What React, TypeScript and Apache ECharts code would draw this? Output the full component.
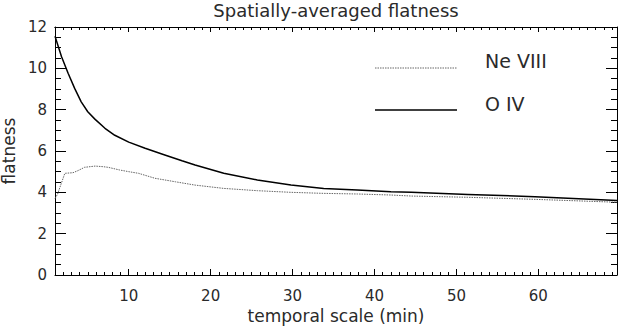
import React, { useEffect, useRef } from "react";
import * as echarts from "echarts";

// temporal scale (min) for each sampled point
const oivX = [1, 1.8, 2.6, 3.4, 4.2, 5, 5.9, 7.1, 8.3, 10, 12, 14.4, 16.5, 18.1, 21.6, 25.7, 29.8, 33.8, 37.9, 42, 44.5, 51.4, 59.6, 69.6];
const oivY = [11.55, 10.56, 9.76, 9.03, 8.38, 7.9, 7.53, 7.1, 6.76, 6.43, 6.13, 5.81, 5.53, 5.32, 4.92, 4.6, 4.35, 4.19, 4.11, 4.03, 4.0, 3.9, 3.79, 3.6];

const neX = [1, 1.3, 2.2, 3.2, 3.8, 4.6, 5.9, 6.9, 7.5, 8.9, 10, 11.2, 13.2, 15.7, 18.1, 21.6, 25.7, 29.8, 33.8, 37.9, 42, 44.5, 51.4, 59.6, 69.6];
const neY = [3.7, 3.9, 4.92, 4.95, 5.05, 5.21, 5.27, 5.24, 5.21, 5.08, 5.0, 4.92, 4.68, 4.51, 4.35, 4.19, 4.08, 4.0, 3.95, 3.92, 3.87, 3.82, 3.76, 3.66, 3.52];

const xMajorTicks = [10, 20, 30, 40, 50, 60];
const xMinorTicks = [2, 3, 4, 5, 6, 7, 8, 9, 11, 12, 13, 14, 15, 16, 17, 18, 19, 21, 22, 23, 24, 25, 26, 27, 28, 29, 31, 32, 33, 34, 35, 36, 37, 38, 39, 41, 42, 43, 44, 45, 46, 47, 48, 49, 51, 52, 53, 54, 55, 56, 57, 58, 59, 61, 62, 63, 64, 65, 66, 67, 68, 69];

const X_MIN = 1;
const X_MAX = 69.6;
const Y_MIN = 0;
const Y_MAX = 12;
const Y_STEP = 2;

const FONT = "DejaVu Sans";
const TXT = "#2a2a2a";

export default function App() {
  const ref = useRef<HTMLDivElement>(null);
  useEffect(() => {
    if (!ref.current) return;
    const chart = echarts.init(ref.current, undefined, { renderer: "svg" });
    const axisLine = { show: true, lineStyle: { color: "#000", width: 1 } };
    const baseX = (pos: "bottom" | "top", ticks: number[], len: number, labels: boolean, name?: string) => ({
      type: "value",
      position: pos,
      min: X_MIN,
      max: X_MAX,
      axisLine: labels || pos === "top" ? axisLine : { show: false },
      axisTick: { show: true, inside: true, length: len, customValues: ticks, lineStyle: { color: "#000" } },
      axisLabel: labels
        ? { show: true, customValues: xMajorTicks, margin: 13, fontFamily: FONT, fontSize: 15, color: TXT }
        : { show: false },
      splitLine: { show: false },
      name: name,
      nameLocation: "middle",
      nameGap: 32,
      nameTextStyle: { fontFamily: FONT, fontSize: 17, color: TXT },
    });
    const baseY = (pos: "left" | "right", labels: boolean) => ({
      type: "value",
      position: pos,
      min: Y_MIN,
      max: Y_MAX,
      interval: Y_STEP,
      axisLine,
      axisTick: { show: true, inside: true, length: 11, lineStyle: { color: "#000" } },
      minorTick: { show: true, splitNumber: 4, length: 6, lineStyle: { color: "#000" } },
      axisLabel: labels ? { show: true, margin: 8, fontFamily: FONT, fontSize: 15, color: TXT } : { show: false },
      splitLine: { show: false },
      minorSplitLine: { show: false },
      name: labels ? "flatness" : undefined,
      nameLocation: "middle",
      nameGap: 33,
      nameTextStyle: { fontFamily: FONT, fontSize: 17, color: TXT },
    });
    chart.setOption({
      animation: false,
      backgroundColor: "#fff",
      grid: { left: 55, right: 2, top: 27, bottom: 52, containLabel: false, outerBoundsMode: "none" },
      xAxis: [
        baseX("bottom", xMajorTicks, 6, true, "temporal scale (min)"),
        baseX("bottom", xMinorTicks, 3, false),
        baseX("top", xMajorTicks, 5, false),
        baseX("top", xMinorTicks, 3, false),
      ],
      yAxis: [baseY("left", true), baseY("right", false)],
      series: [
        {
          name: "Ne VIII",
          type: "line",
          xAxisIndex: 0,
          yAxisIndex: 0,
          data: neX.map((x, i) => [x, neY[i]]),
          showSymbol: false,
          lineStyle: { color: "#666", width: 1, type: [1.5, 1] },
        },
        {
          name: "O IV",
          type: "line",
          xAxisIndex: 0,
          yAxisIndex: 0,
          data: oivX.map((x, i) => [x, oivY[i]]),
          showSymbol: false,
          lineStyle: { color: "#000", width: 1.5 },
        },
      ],
      graphic: [
        {
          type: "text",
          x: 336,
          y: 1,
          style: { text: "Spatially-averaged flatness", fontFamily: FONT, fontSize: 18, fill: TXT, textAlign: "center", textVerticalAlign: "top" },
        },
        {
          type: "line",
          shape: { x1: 375, y1: 68, x2: 457, y2: 68 },
          style: { stroke: "#666", lineWidth: 1, lineDash: [1.5, 1] },
        },
        {
          type: "text",
          x: 485,
          y: 61,
          style: { text: "Ne VIII", fontFamily: FONT, fontSize: 19, fill: TXT, textAlign: "left", textVerticalAlign: "middle" },
        },
        {
          type: "line",
          shape: { x1: 375, y1: 110, x2: 457, y2: 110 },
          style: { stroke: "#000", lineWidth: 1.5 },
        },
        {
          type: "text",
          x: 485,
          y: 104,
          style: { text: "O IV", fontFamily: FONT, fontSize: 19, fill: TXT, textAlign: "left", textVerticalAlign: "middle" },
        },
      ],
    });
    return () => chart.dispose();
  }, []);
  return <div ref={ref} style={{ width: 619, height: 327, position: "absolute", left: 0, top: 0 }} />;
}
